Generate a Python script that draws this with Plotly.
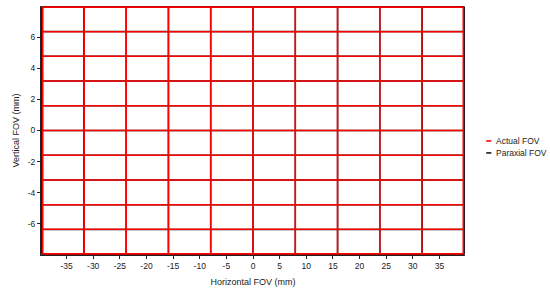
import plotly.graph_objects as go

# paraxial (ideal) grid positions, mm
X_PARAXIAL = [-39.7, -31.76, -23.82, -15.88, -7.94, 0, 7.94, 15.88, 23.82, 31.76, 39.7]
Y_PARAXIAL = [-7.95, -6.36, -4.77, -3.18, -1.59, 0, 1.59, 3.18, 4.77, 6.36, 7.95]

# actual (distorted) grid positions, mm
X_ACTUAL = [-39.48, -31.7, -23.8, -15.87, -7.94, 0, 7.94, 15.87, 23.8, 31.7, 39.48]
Y_ACTUAL = [-7.93, -6.35, -4.77, -3.18, -1.59, 0, 1.59, 3.18, 4.77, 6.35, 7.93]

X_TICKS = [-35, -30, -25, -20, -15, -10, -5, 0, 5, 10, 15, 20, 25, 30, 35]
Y_TICKS = [-6, -4, -2, 0, 2, 4, 6]

SERIES = ["Actual FOV", "Paraxial FOV"]
COLORS = {"Actual FOV": "#ff0000", "Paraxial FOV": "#1a1a1a"}

FONT = "Liberation Sans, Arial, sans-serif"


def grid_lines(xs, ys):
    """vertical + horizontal grid segments, separated by None"""
    px, py = [], []
    for x in xs:
        px += [x, x, None]
        py += [ys[0], ys[-1], None]
    for y in ys:
        px += [xs[0], xs[-1], None]
        py += [y, y, None]
    return px, py


fig = go.Figure()

# paraxial first so the actual grid sits on top
px, py = grid_lines(X_PARAXIAL, Y_PARAXIAL)
fig.add_trace(go.Scatter(
    x=px, y=py, mode="lines", name="Paraxial FOV",
    line=dict(color=COLORS["Paraxial FOV"], width=1.5),
    showlegend=False, hoverinfo="skip"
))

ax, ay = grid_lines(X_ACTUAL, Y_ACTUAL)
fig.add_trace(go.Scatter(
    x=ax, y=ay, mode="lines", name="Actual FOV",
    line=dict(color=COLORS["Actual FOV"], width=1.6),
    showlegend=False, hoverinfo="skip"
))

# small hand-made legend (plotly's legend swatch is too wide for this space)
for i, name in enumerate(SERIES):
    yy = 0.458 - i * 0.048
    fig.add_shape(
        type="line", xref="paper", yref="paper",
        x0=1.050, x1=1.062, y0=yy, y1=yy,
        line=dict(color=COLORS[name], width=1.6)
    )
    fig.add_annotation(
        x=1.068, y=yy, xref="paper", yref="paper",
        text=name, showarrow=False, xanchor="left", yanchor="middle",
        font=dict(family=FONT, size=8.5, color="#222")
    )

fig.update_layout(
    width=550, height=292,
    margin=dict(l=41, r=85, t=6, b=37),
    paper_bgcolor="white",
    plot_bgcolor="white",
    showlegend=False,
    font=dict(family=FONT, size=8.5, color="#222"),
    xaxis=dict(
        range=[-39.8, 39.8],
        tickvals=X_TICKS,
        ticktext=[str(v) for v in X_TICKS],
        ticks="outside", ticklen=3, tickcolor="#222",
        showgrid=False, zeroline=False,
        showline=True, linecolor="#222", linewidth=1,
        title=dict(text="Horizontal FOV (mm)", font=dict(size=9), standoff=8),
    ),
    yaxis=dict(
        range=[-8.0, 8.0],
        tickvals=Y_TICKS,
        ticktext=[str(v) for v in Y_TICKS],
        ticks="outside", ticklen=3, tickcolor="#222",
        showgrid=False, zeroline=False,
        showline=True, linecolor="#222", linewidth=1,
        title=dict(text="Vertical FOV (mm)", font=dict(size=9), standoff=6),
    ),
)

# page body has a default margin; drop it so the figure sits at the corner
fig.write_html(
    "out.html",
    config={"displayModeBar": False},
    post_script="document.body.style.margin='0';",
)
